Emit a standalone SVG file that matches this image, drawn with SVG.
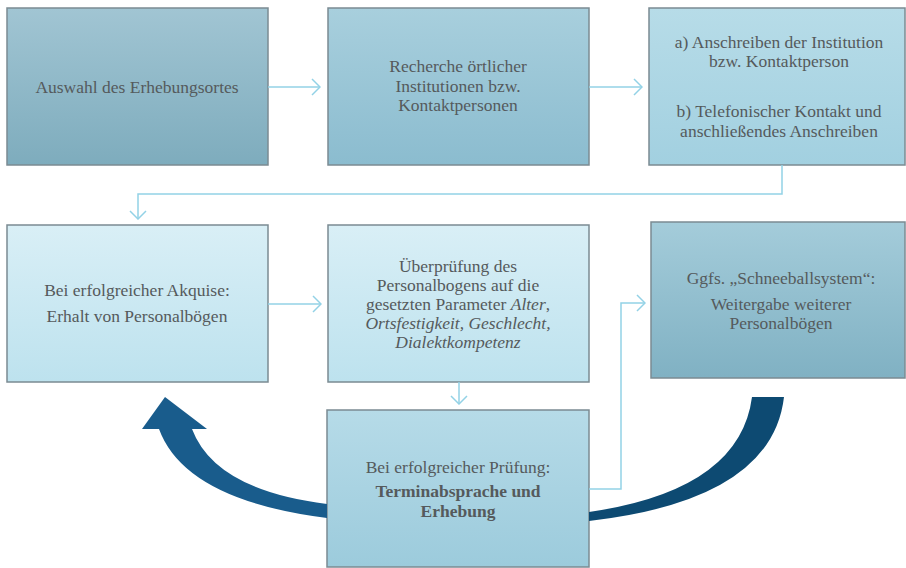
<svg xmlns="http://www.w3.org/2000/svg" width="906" height="568" viewBox="0 0 906 568">
<defs>
<linearGradient id="g1" x1="0" y1="0" x2="0" y2="1"><stop offset="0" stop-color="#a1c5d3"/><stop offset="1" stop-color="#7eacbd"/></linearGradient>
<linearGradient id="g2" x1="0" y1="0" x2="0" y2="1"><stop offset="0" stop-color="#a8cfdd"/><stop offset="1" stop-color="#8bbccf"/></linearGradient>
<linearGradient id="g3" x1="0" y1="0" x2="0" y2="1"><stop offset="0" stop-color="#b7dce8"/><stop offset="1" stop-color="#a2d0e0"/></linearGradient>
<linearGradient id="g4" x1="0" y1="0" x2="0" y2="1"><stop offset="0" stop-color="#d9eff6"/><stop offset="1" stop-color="#bde2ee"/></linearGradient>
<linearGradient id="g6" x1="0" y1="0" x2="0" y2="1"><stop offset="0" stop-color="#a4ccda"/><stop offset="1" stop-color="#80b1c3"/></linearGradient>
<linearGradient id="g7" x1="0" y1="0" x2="0" y2="1"><stop offset="0" stop-color="#b6dbe8"/><stop offset="1" stop-color="#9ccbdc"/></linearGradient>
<marker id="chev" viewBox="0 0 10 18" refX="9" refY="9" markerWidth="10" markerHeight="18" markerUnits="userSpaceOnUse" orient="auto">
<path d="M1,1 L9,9 L1,17" fill="none" stroke="#93d2e6" stroke-width="1.5"/>
</marker>
<style>
.box{stroke:#7b8b92;stroke-width:1.5}
text{font-family:'Liberation Serif','DejaVu Serif','Times New Roman',serif;font-size:17.5px;fill:#555a5c;text-anchor:middle}
.b{font-weight:bold}
.i{font-style:italic}
.c{fill:none;stroke:#93d2e6;stroke-width:1.5}
</style>
</defs>

<g id="n1"><rect class="box" x="7" y="8" width="261" height="157" fill="url(#g1)"/>
<text x="137" y="93">Auswahl des Erhebungsortes</text></g>

<g id="n2"><rect class="box" x="328" y="8" width="261" height="157" fill="url(#g2)"/>
<text x="458" y="72">Recherche örtlicher</text>
<text x="458" y="92">Institutionen bzw.</text>
<text x="458" y="111">Kontaktpersonen</text></g>

<g id="n3"><rect class="box" x="649" y="8" width="256" height="157" fill="url(#g3)"/>
<text x="779" y="48">a) Anschreiben der Institution</text>
<text x="779" y="67">bzw. Kontaktperson</text>
<text x="779" y="117">b) Telefonischer Kontakt und</text>
<text x="779" y="137">anschließendes Anschreiben</text></g>

<g id="n4"><rect class="box" x="7" y="225" width="261" height="157" fill="url(#g4)"/>
<text x="137" y="296">Bei erfolgreicher Akquise:</text>
<text x="137" y="322">Erhalt von Personalbögen</text></g>

<g id="n5"><rect class="box" x="328" y="225" width="261" height="157" fill="url(#g4)"/>
<text x="458" y="272">Überprüfung des</text>
<text x="458" y="291">Personalbogens auf die</text>
<text x="458" y="310">gesetzten Parameter <tspan class="i">Alter</tspan>,</text>
<text class="i" x="458" y="329">Ortsfestigkeit, Geschlecht,</text>
<text class="i" x="458" y="348">Dialektkompetenz</text></g>

<g id="n6"><rect class="box" x="651" y="222" width="254" height="156" fill="url(#g6)"/>
<text x="781" y="284">Ggfs. „Schneeballsystem“:</text>
<text x="781" y="310">Weitergabe weiterer</text>
<text x="781" y="329">Personalbögen</text></g>

<g id="n7"><rect class="box" x="327" y="410" width="262" height="157" fill="url(#g7)"/>
<text x="458" y="473">Bei erfolgreicher Prüfung:</text>
<text class="b" x="458" y="497">Terminabsprache und</text>
<text class="b" x="458" y="517">Erhebung</text></g>

<g id="connectors">
<path class="c" d="M268,87 H320" marker-end="url(#chev)"/>
<path class="c" d="M589,87 H642" marker-end="url(#chev)"/>
<path class="c" d="M782,165 V194 H138 V219" marker-end="url(#chev)"/>
<path class="c" d="M268,304 H321" marker-end="url(#chev)"/>
<path class="c" d="M459,382 V404" marker-end="url(#chev)"/>
<path class="c" d="M589,489 H621 V303 H645" marker-end="url(#chev)"/>
<path id="bigLeft" fill="#195c8c" d="M327,518 Q185,500 159,429 L142,429 L165,397 L207,429 L192,429 Q215,490 327,504 Z"/>
<path id="bigRight" fill="#0d4a72" d="M752,397 L784,397 Q772,500 589,521 L589,512 Q740,490 752,397 Z"/>
</g>
</svg>
